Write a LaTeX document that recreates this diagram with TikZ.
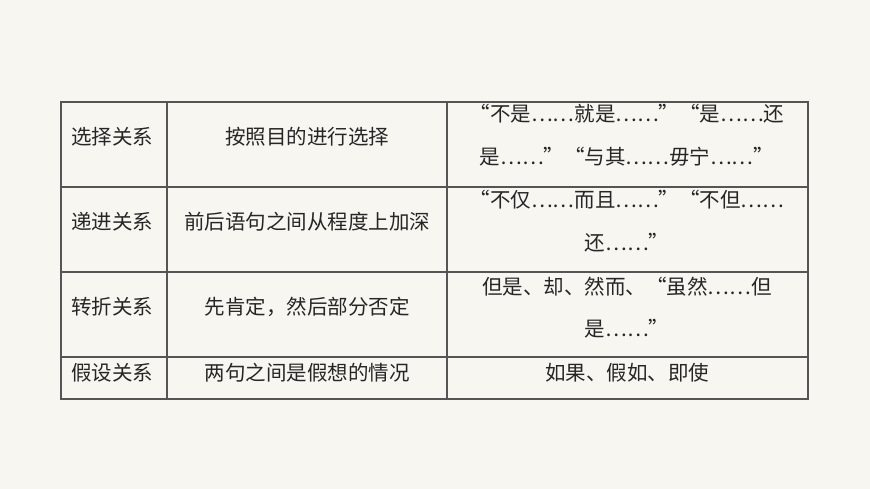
\documentclass[tikz,border=0pt]{standalone}
\usepackage{fontspec}
\newfontfamily\cjk{Noto Sans CJK SC}
\usetikzlibrary{positioning}
\definecolor{paper}{HTML}{F8F6F1}
\definecolor{rule}{HTML}{555555}
\tikzset{
  cell/.style={font=\cjk\fontsize{20.5}{24}\selectfont, inner sep=0pt, text=black!85},
  kind/.style={cell, anchor=west},
}
\begin{document}
\begin{tikzpicture}[x=1pt,y=-1pt]
  \fill[paper] (0,0) rectangle (870,489);
  % table grid
  \draw[rule, line width=1.2pt] (61,102) rectangle (808,399);
  \foreach \yy in {187,272,357}
    \draw[rule, line width=1.2pt] (61,\yy) -- (808,\yy);
  \foreach \xx in {167,447}
    \draw[rule, line width=1.2pt] (\xx,102) -- (\xx,399);

  % first column
  \node[kind] (k1) at (71,137) {选择关系};
  \node[kind] (k2) at (71,222) {递进关系};
  \node[kind] (k3) at (71,307) {转折关系};
  \node[kind] (k4) at (71,373) {假设关系};

  % second column
  \node[cell] (m1) at (307,137) {按照目的进行选择};
  \node[cell] (m2) at (307,222) {前后语句之间从程度上加深};
  \node[cell] (m3) at (307,307) {先肯定，然后部分否定};
  \node[cell] (m4) at (307,373) {两句之间是假想的情况};

  % third column
  \node[cell] (e1) at (627,114) {“不是……就是……”“是……还};
  \node[cell] (e1b) at (627,157) {是……”“与其……毋宁……”};
  \node[cell] (e2) at (627,200) {“不仅……而且……”“不但……};
  \node[cell] (e2b) at (627,243) {还……”};
  \node[cell] (e3) at (627,287) {但是、却、然而、“虽然……但};
  \node[cell] (e3b) at (627,329) {是……”};
  \node[cell] (e4) at (627,373) {如果、假如、即使};
\end{tikzpicture}
\end{document}
